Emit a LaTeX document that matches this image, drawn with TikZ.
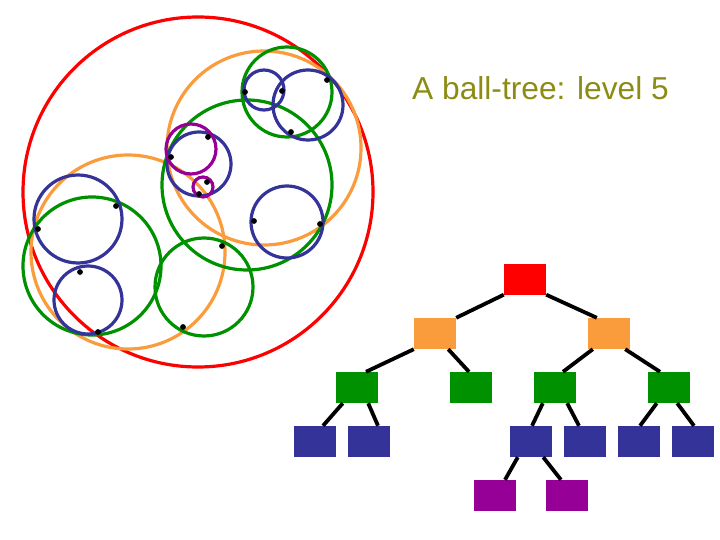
\documentclass[tikz,border=0pt]{standalone}
\usepackage{fontspec}
\setmainfont{Liberation Sans}
\definecolor{cred}{RGB}{255,0,0}
\definecolor{corange}{RGB}{250,155,60}
\definecolor{cgreen}{RGB}{0,145,0}
\definecolor{cblue}{RGB}{51,51,153}
\definecolor{cpurple}{RGB}{150,0,150}
\definecolor{colive}{RGB}{140,140,20}
\begin{document}
\begin{tikzpicture}[x=1pt,y=-1pt,
  ball/.style={line width=3.2pt},
  pt/.style={fill=black},
  tbox/.style={minimum width=42pt,minimum height=31pt,inner sep=0pt,draw=none},
  edge/.style={line width=3.8pt,black}]
\useasboundingbox (0,0) rectangle (720,540);
% balls
\draw[ball,cred] (198,192) circle[radius=175];
\draw[ball,corange] (264,148) circle[radius=97];
\draw[ball,corange] (128,252) circle[radius=97];
\draw[ball,cgreen] (247,185) circle[radius=85];
\draw[ball,cgreen] (287,92) circle[radius=45];
\draw[ball,cgreen] (92,266) circle[radius=69];
\draw[ball,cgreen] (204,287) circle[radius=49];
\draw[ball,cblue] (264,90) circle[radius=20];
\draw[ball,cblue] (308,105) circle[radius=35];
\draw[ball,cblue] (199,164) circle[radius=32];
\draw[ball,cblue] (287,222) circle[radius=36];
\draw[ball,cblue] (78,219) circle[radius=44];
\draw[ball,cblue] (88,300) circle[radius=34];
\draw[ball,cpurple] (191,149) circle[radius=25];
\draw[ball,cpurple] (203,187) circle[radius=10];
% points
\foreach \p in {(327,80),(282,91),(245,92),(291,132),(208,137),(171,157),(207,182),(199,194),(254,221),(320,224),(222,246),(116,206),(38,229),(80,272),(98,332),(183,327)}
  \fill[pt] \p circle[radius=2.9];
% title
\node[anchor=base west,inner sep=0pt,text=colive,font=\fontsize{31.7}{32}\selectfont] (title) at (412,100) {A ball-tree: level 5};
% tree
\node[tbox,fill=cred] (r) at (525,279) {};
\node[tbox,fill=corange] (o1) at (435,333.5) {};
\node[tbox,fill=corange] (o2) at (609,333.5) {};
\node[tbox,fill=cgreen] (g1) at (357,387.5) {};
\node[tbox,fill=cgreen] (g2) at (471,387.5) {};
\node[tbox,fill=cgreen] (g3) at (555,387.5) {};
\node[tbox,fill=cgreen] (g4) at (669,387.5) {};
\node[tbox,fill=cblue] (b1) at (315,441.5) {};
\node[tbox,fill=cblue] (b2) at (369,441.5) {};
\node[tbox,fill=cblue] (b3) at (531,441.5) {};
\node[tbox,fill=cblue] (b4) at (585,441.5) {};
\node[tbox,fill=cblue] (b5) at (639,441.5) {};
\node[tbox,fill=cblue] (b6) at (693,441.5) {};
\node[tbox,fill=cpurple] (p1) at (495,495.5) {};
\node[tbox,fill=cpurple] (p2) at (567,495.5) {};
% edges
\draw[edge] (r.south west) -- (o1.north east);
\draw[edge] (r.south east) -- ([xshift=9pt]o2.north west);
\draw[edge] (o1.south west) -- ([xshift=9pt]g1.north);
\draw[edge] ([xshift=-8pt]o1.south east) -- ([xshift=-2pt]g2.north);
\draw[edge] ([xshift=5pt]o2.south west) -- ([xshift=8pt]g3.north);
\draw[edge] ([xshift=-5pt]o2.south east) -- ([xshift=-9pt]g4.north);
\draw[edge] ([xshift=7pt]g1.south west) -- ([xshift=8pt]b1.north);
\draw[edge] ([xshift=-10pt]g1.south east) -- ([xshift=9pt]b2.north);
\draw[edge] ([xshift=9pt]g3.south west) -- ([xshift=1pt]b3.north);
\draw[edge] ([xshift=-9pt]g3.south east) -- ([xshift=-6pt]b4.north);
\draw[edge] ([xshift=9pt]g4.south west) -- ([xshift=1pt]b5.north);
\draw[edge] ([xshift=-13pt]g4.south east) -- ([xshift=1pt]b6.north);
\draw[edge] ([xshift=8pt]b3.south west) -- ([xshift=10pt]p1.north);
\draw[edge] ([xshift=-9pt]b3.south east) -- ([xshift=-6pt]p2.north);
\end{tikzpicture}
\end{document}
